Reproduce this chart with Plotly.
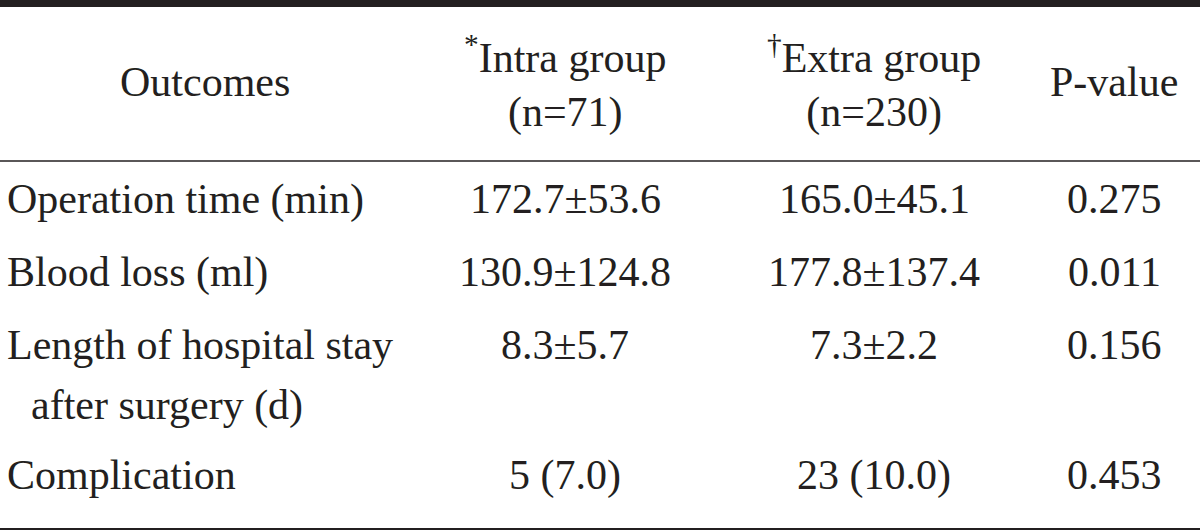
import plotly.graph_objects as go

# ---- data ----
header_labels = ["Outcomes", "<sup>*</sup>Intra group<br>(n=71)",
                 "<sup>†</sup>Extra group<br>(n=230)", "P-value"]
outcome_first = ["Operation time (min)", "Blood loss (ml)",
                 "Length of hospital stay", "Complication"]
outcome_second = ["", "", "after surgery (d)", ""]
intra_values = ["172.7±53.6", "130.9±124.8", "8.3±5.7", "5 (7.0)"]
extra_values = ["165.0±45.1", "177.8±137.4", "7.3±2.2", "23 (10.0)"]
p_values = ["0.275", "0.011", "0.156", "0.453"]

# ---- layout geometry ----
W, H = 1200, 531
INK = "#231f20"
FONT = dict(family="Liberation Serif, Times New Roman, serif", size=42, color=INK)
col_centers = [205, 565, 874, 1114]
label_x = 6
second_x = 30
header_y = 82
row_y = [199, 272, 345, 475]
second_line_gap = 60

fig = go.Figure()
fig.add_trace(go.Scatter(x=[0, W], y=[0, H], mode="markers",
                         marker=dict(opacity=0), hoverinfo="skip", showlegend=False))

ann = []
for cx, txt in zip(col_centers, header_labels):
    ann.append(dict(x=cx, y=header_y, text=txt, xanchor="center", yanchor="middle"))

for i in range(len(outcome_first)):
    y = row_y[i]
    ann.append(dict(x=label_x, y=y, text=outcome_first[i], xanchor="left", yanchor="middle"))
    if outcome_second[i]:
        ann.append(dict(x=second_x, y=y + second_line_gap, text=outcome_second[i],
                        xanchor="left", yanchor="middle"))
    for cx, vals in zip(col_centers[1:], [intra_values, extra_values, p_values]):
        ann.append(dict(x=cx, y=y, text=vals[i], xanchor="center", yanchor="middle"))

for a in ann:
    a.update(xref="x", yref="y", showarrow=False, font=FONT, align="center", borderpad=0)

shapes = [
    dict(type="rect", xref="x", yref="y", x0=0, x1=W, y0=0, y1=7,
         fillcolor=INK, line=dict(width=0)),
    dict(type="line", xref="x", yref="y", x0=0, x1=W, y0=161, y1=161,
         line=dict(color=INK, width=1.5)),
    dict(type="line", xref="x", yref="y", x0=0, x1=W, y0=529, y1=529,
         line=dict(color=INK, width=2)),
]

fig.update_layout(
    width=W, height=H, margin=dict(l=0, r=0, t=0, b=0),
    paper_bgcolor="white", plot_bgcolor="white",
    xaxis=dict(range=[0, W], visible=False, fixedrange=True),
    yaxis=dict(range=[H, 0], visible=False, fixedrange=True),
    annotations=ann, shapes=shapes, showlegend=False,
)

fig.write_html("out.html", config={"displayModeBar": False},
               post_script="document.body.style.margin='0';document.body.style.overflow='hidden';")
